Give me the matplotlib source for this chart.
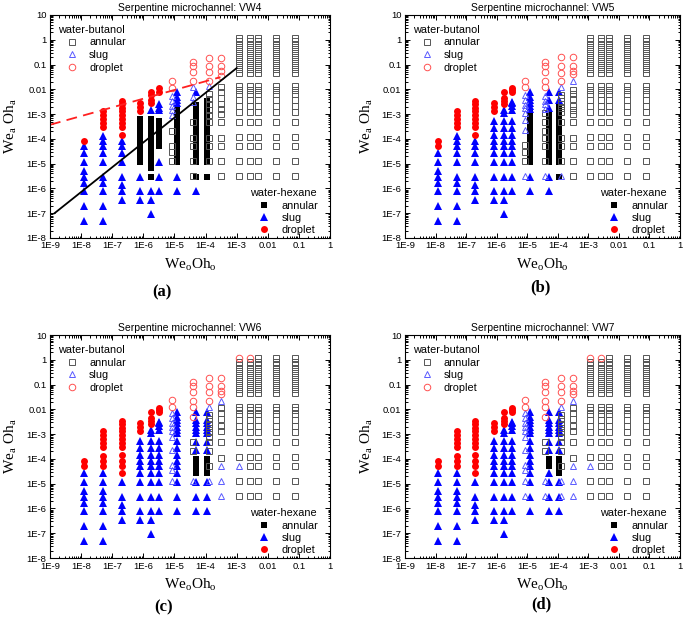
import matplotlib
matplotlib.use("Agg")
import matplotlib.pyplot as plt
from matplotlib.lines import Line2D
from matplotlib.ticker import FixedLocator, FixedFormatter, LogLocator, NullFormatter

plt.rcParams["font.family"] = ["Liberation Sans", "DejaVu Sans"]

# x positions of the measured columns (We_o Oh_o)
HEX_X = [1.2e-8, 5e-8, 2e-7, 8e-7, 1.8e-6, 3.2e-6, 1.2e-5, 5e-5, 1.1e-4]
BUT_X = [8.5e-6, 3.8e-5, 1.3e-4, 3.2e-4, 1.15e-3, 2.6e-3, 4.7e-3, 0.019, 0.076]

# water-butanol annular columns at high We_o Oh_o
BUT_ANN_FULL = [1.2, 0.85, 0.6, 0.42, 0.3, 0.2, 0.14, 0.1, 0.065, 0.045,
                0.013, 0.0095, 0.0065, 0.0038, 0.0022, 0.0012, 5e-4, 1.15e-4, 5e-5, 1.3e-5, 3.3e-6]
BUT_ANN_NO_TOP = [0.85, 0.6, 0.42, 0.3, 0.2, 0.14, 0.1, 0.065, 0.045,
                  0.013, 0.0095, 0.0065, 0.0038, 0.0022, 0.0012, 5e-4, 1.15e-4, 5e-5, 1.3e-5, 3.3e-6]
BUT_ANN_NO_TOP_MID = [0.85, 0.6, 0.42, 0.3, 0.2, 0.14, 0.1, 0.065, 0.045,
                      0.013, 0.0095, 0.0065, 0.0038, 0.0022, 0.0012, 5e-4, 1.15e-4, 1.3e-5, 3.3e-6]

# water-hexane columns shared by several panels
HS1 = [4.7e-8, 1.9e-7, 7.7e-7, 1.7e-6, 3e-6, 5e-6, 1.2e-5, 2.8e-5]
HD1 = [5e-5, 8e-5]
HS2_B = [4.7e-8, 1.9e-7, 7.7e-7, 1.7e-6, 3e-6, 1.2e-5, 2.8e-5, 5e-5, 8e-5, 1.3e-4]
HD2_B = [3e-4, 4.5e-4, 6.5e-4, 9.5e-4, 1.3e-3]
HS2_C = [4.7e-8, 1.9e-7, 7.7e-7, 1.7e-6, 3e-6, 5e-6, 1.2e-5, 2.8e-5]
HD2_C = [5e-5, 8e-5, 1.3e-4, 3e-4, 4.5e-4, 6.5e-4, 9.5e-4, 1.3e-3]
HS3_B = [3.5e-7, 7.7e-7, 1.4e-6, 3e-6, 1.2e-5, 2.8e-5, 5e-5, 8e-5]
HD3_B = [1.4e-4, 3e-4, 4.5e-4, 6.5e-4, 9.5e-4, 1.3e-3, 1.8e-3, 2.5e-3, 3.5e-3]
HS3_C = [3.5e-7, 7.7e-7, 1.4e-6, 3e-6, 1.2e-5]
HD3_C = [2.8e-5, 5e-5, 8e-5, 1.4e-4, 3e-4, 4.5e-4, 6.5e-4, 9.5e-4, 1.3e-3, 1.8e-3, 2.5e-3, 3.5e-3]
HS4 = [3.5e-7, 7.7e-7, 3e-6, 1.2e-5, 2.8e-5, 5e-5, 8e-5, 1.4e-4, 2.8e-4, 5.5e-4]
HD4 = [1.3e-3, 1.9e-3, 2.8e-3]
HS5 = [9e-8, 3.5e-7, 7.7e-7, 3e-6, 1.2e-5, 2.8e-5, 5e-5, 8e-5, 1.4e-4, 2.8e-4, 5.5e-4, 1.1e-3, 1.5e-3]
HD5 = [2.5e-3, 3.3e-3, 4.5e-3, 8e-3]
HS6 = [7.7e-7, 3e-6, 1.2e-5, 2.8e-5, 5e-5, 8e-5, 1.4e-4, 2.8e-4, 5.5e-4, 1.5e-3, 2.2e-3, 2.7e-3, 3.2e-3]
HD6 = [7.5e-3, 9e-3, 1.1e-2]

# (a) VW4
A_HEX_ANN = [[], [], [],
             [1.2e-5, 1.8e-5, 2.8e-5, 4.2e-5, 6.3e-5, 9.5e-5, 1.4e-4, 2.1e-4, 3.2e-4, 4.8e-4, 6.5e-4],
             [3e-6, 6.5e-6, 1.2e-5, 1.8e-5, 2.8e-5, 4.2e-5, 6.3e-5, 9.5e-5, 1.4e-4, 2.1e-4, 3.2e-4, 4.8e-4, 6.5e-4],
             [5e-5, 7.5e-5, 1.1e-4, 1.6e-4, 2.4e-4, 3.6e-4, 5.5e-4],
             [1.2e-5, 1.8e-5, 2.8e-5, 4.2e-5, 6.3e-5, 9.5e-5, 1.4e-4, 2.1e-4, 3.2e-4, 4.8e-4, 7.2e-4, 1.1e-3, 1.6e-3],
             [3e-6, 1.2e-5, 1.8e-5, 2.8e-5, 4.2e-5, 6.3e-5, 9.5e-5, 1.4e-4, 2.1e-4, 3.2e-4, 4.8e-4, 7.2e-4,
              1.1e-3, 1.6e-3, 2.4e-3],
             [3e-6, 1.2e-5, 1.8e-5, 2.8e-5, 4.2e-5, 6.3e-5, 9.5e-5, 1.4e-4, 2.1e-4, 3.2e-4, 4.8e-4, 7.2e-4,
              1.1e-3, 1.6e-3, 2.4e-3, 3.5e-3]]
A_HEX_SLUG = [[4.7e-8, 1.9e-7, 7.7e-7, 1.7e-6, 3e-6, 5e-6, 1.2e-5, 2.8e-5, 5e-5],
              HS2_B, HS3_B, [3.5e-7, 7.7e-7, 3e-6], [9e-8, 3.5e-7, 7.7e-7, 1.5e-3],
              [7.7e-7, 3e-6, 1.2e-5, 1.4e-3, 1.8e-3, 2.5e-3],
              [7.7e-7, 3e-6, 2.8e-3, 3.8e-3, 5e-3, 8e-3], [7.7e-7, 8e-3], []]
A_HEX_DROP = [[8e-5], HD2_B, HD3_B, HD4, [2.8e-3, 3.8e-3, 6e-3, 8e-3], [8e-3, 1.1e-2], [], [], []]
A_BUT_ANN = [[2e-4, 5e-5, 3e-5, 1.3e-5], [5e-4, 1.1e-4, 5e-5, 1.3e-5, 3.3e-6],
             [6.5e-3, 4e-3, 2.5e-3, 1.5e-3, 9e-4, 5e-4, 1.1e-4, 5e-5, 1.3e-5],
             [0.012, 7.5e-3, 4.5e-3, 2.5e-3, 1.6e-3, 1e-3, 5e-4, 1.1e-4, 5e-5, 1.3e-5, 3.3e-6],
             BUT_ANN_FULL, BUT_ANN_FULL, BUT_ANN_FULL, BUT_ANN_FULL, BUT_ANN_FULL]
A_BUT_SLUG = [[5.5e-3, 3.5e-3, 2.2e-3, 1.4e-3, 9e-4], [0.012, 5e-3, 3e-3], [0.013], [], [], [], [], [], []]
A_BUT_DROP = [[0.021, 0.011], [0.13, 0.085, 0.05, 0.021], [0.19, 0.09, 0.05, 0.022],
              [0.19, 0.09, 0.055, 0.035], [], [], [], [], []]
# model lines drawn in (a)
A_LINE_X = [1.4e-9, 1e-3]
A_LINE_Y = [1e-7, 0.072]
A_DASH_X = [1e-9, 3e-4]
A_DASH_Y = [3.7e-4, 0.031]

# (b) VW5
B_HEX_ANN = [[], [], [], [], [], [],
             [1.2e-5, 1.8e-5, 2.8e-5, 4.2e-5, 6.3e-5, 9.5e-5, 1.4e-4, 2.1e-4, 3.2e-4, 4.8e-4, 7.2e-4, 1.1e-3],
             [1.2e-5, 1.8e-5, 2.8e-5, 4.2e-5, 6.3e-5, 9.5e-5, 1.4e-4, 2.1e-4, 3.2e-4, 4.8e-4, 7.2e-4, 1.1e-3],
             [3e-6, 1.2e-5, 1.8e-5, 2.8e-5, 4.2e-5, 6.3e-5, 9.5e-5, 1.4e-4, 2.1e-4, 3.2e-4, 4.8e-4, 7.2e-4,
              1.1e-3, 1.6e-3, 2.4e-3]]
B_HEX_SLUG = [HS1, HS2_B, HS3_B, HS4, HS5, HS6,
              [7.7e-7, 3e-6, 1.6e-3, 2.2e-3, 2.8e-3, 3.8e-3, 5e-3, 8e-3],
              [7.7e-7, 3e-6, 1.8e-3, 3.8e-3, 8e-3], [3.8e-3, 8e-3]]
B_HEX_DROP = [HD1, HD2_B, HD3_B, HD4, HD5, HD6, [], [], []]
B_BUT_ANN = [[5.5e-5, 3e-5, 1.3e-5], [1.1e-3, 5e-4, 2e-4, 1.1e-4, 5e-5, 1.3e-5],
             [6e-3, 4.5e-3, 3.5e-3, 2.5e-3, 1.8e-3, 1.2e-3, 5e-4, 1.1e-4, 5e-5, 1.3e-5],
             [0.0095, 6.5e-3, 4e-3, 2.2e-3, 1.4e-3, 1e-3, 5e-4, 1.1e-4, 5e-5, 1.3e-5, 3.3e-6],
             BUT_ANN_FULL, BUT_ANN_FULL, BUT_ANN_FULL, BUT_ANN_FULL, BUT_ANN_FULL]
B_BUT_SLUG = [[6e-3, 3.8e-3, 2.4e-3, 1.7e-3, 1.1e-3, 6e-4, 2.3e-4, 3.3e-6],
              [5.5e-3, 3.5e-3, 2.5e-3, 1.6e-3, 3.3e-6], [0.012, 3.3e-6], [0.022], [], [], [], [], []]
B_BUT_DROP = [[0.021, 0.012], [0.13, 0.085, 0.05, 0.021, 0.012], [0.2, 0.09, 0.045, 0.021],
              [0.2, 0.09, 0.055, 0.04], [], [], [], [], []]

# (c) VW6
C_HEX_ANN = [[], [], [], [], [], [], [],
             [2.7e-5, 4e-5, 5.5e-5, 7e-5, 9.5e-5], [2.7e-5, 4e-5, 5.5e-5, 7e-5, 9.5e-5]]
C_HEX_SLUG = [HS1, HS2_C, HS3_C, HS4, HS5, HS6,
              [7.7e-7, 3e-6, 1.2e-5, 2.8e-5, 5e-5, 8e-5, 1.4e-4, 2.8e-4, 5.5e-4, 1.1e-3, 1.5e-3, 2e-3,
               2.8e-3, 3.8e-3, 5e-3, 8e-3],
              [7.7e-7, 3e-6, 1.2e-5, 2.3e-4, 5e-4, 1.1e-3, 1.5e-3, 2e-3, 2.8e-3, 3.8e-3, 8e-3],
              [7.7e-7, 3e-6, 1.2e-5, 2.3e-4, 5e-4, 1.1e-3, 1.5e-3, 2e-3, 2.8e-3, 3.8e-3, 8e-3]]
C_HEX_DROP = [HD1, HD2_C, HD3_C, HD4, HD5, HD6, [], [], []]
C_BUT_ANN = [[], [5e-4, 2e-4],
             [6e-3, 4e-3, 2.5e-3, 1.8e-3, 1.2e-3, 8e-4, 5e-4, 2e-4, 5e-5],
             [0.011, 7e-3, 4e-3, 2.2e-3, 1.4e-3, 5e-4, 1.1e-4],
             BUT_ANN_NO_TOP_MID, BUT_ANN_NO_TOP, BUT_ANN_FULL, BUT_ANN_FULL, BUT_ANN_FULL]
C_BUT_SLUG = [[7e-3, 4.4e-3, 2.8e-3, 2e-3, 1.3e-3, 8e-4, 2.3e-4, 5.8e-5, 3.7e-5, 1.3e-5],
              [1.3e-5], [0.013, 1.3e-5], [0.022, 5e-5, 1.3e-5, 3.3e-6], [5e-5], [], [], [], []]
C_BUT_DROP = [[0.024, 0.013], [0.13, 0.085, 0.05, 0.022, 0.013, 5e-3], [0.19, 0.09, 0.05, 0.022],
              [0.19, 0.09, 0.055, 0.04], [1.2], [1.2], [], [], []]

# (d) VW7
D_HEX_ANN = [[], [], [], [], [], [], [],
             [5e-5, 6.5e-5, 8e-5, 1e-4], [2.7e-5, 4e-5, 5.5e-5, 7e-5, 9.5e-5]]
D_HEX_SLUG = [HS1, HS2_C, HS3_C, HS4, HS5, HS6,
              [7.7e-7, 3e-6, 1.2e-5, 2.8e-5, 5e-5, 8e-5, 1.4e-4, 2.8e-4, 5.5e-4, 1.1e-3, 1.5e-3, 2e-3,
               2.8e-3, 3.8e-3, 5e-3, 8e-3],
              [7.7e-7, 3e-6, 1.2e-5, 2.8e-5, 2.3e-4, 5e-4, 1.1e-3, 1.5e-3, 2e-3, 2.8e-3, 3.8e-3, 8e-3],
              [7.7e-7, 3e-6, 1.2e-5, 2.3e-4, 5e-4, 1.1e-3, 1.5e-3, 2e-3, 2.8e-3, 3.8e-3, 8e-3]]
D_HEX_DROP = [HD1, HD2_C, HD3_C, HD4, HD5, HD6, [], [], []]
D_BUT_ANN = C_BUT_ANN
D_BUT_SLUG = [[7e-3, 4.4e-3, 2.8e-3, 2e-3, 1.3e-3, 8e-4, 2.3e-4, 5.8e-5, 3.7e-5, 1.3e-5, 3.3e-6],
              [1.3e-5, 3.3e-6], [0.013, 1.3e-5, 3.3e-6], [0.022, 5e-5, 1.3e-5, 3.3e-6], [5e-5], [], [], [], []]
D_BUT_DROP = C_BUT_DROP

X_TICKS = [1e-9, 1e-8, 1e-7, 1e-6, 1e-5, 1e-4, 1e-3, 1e-2, 1e-1, 1]
X_LABELS = ["1E-9", "1E-8", "1E-7", "1E-6", "1E-5", "1E-4", "1E-3", "0.01", "0.1", "1"]
Y_TICKS = [1e-8, 1e-7, 1e-6, 1e-5, 1e-4, 1e-3, 1e-2, 1e-1, 1, 10]
Y_LABELS = ["1E-8", "1E-7", "1E-6", "1E-5", "1E-4", "1E-3", "0.01", "0.1", "1", "10"]

OPEN_SQ = dict(marker="s", ms=3.9, mfc="none", mec="#555555", mew=0.7, ls="none")
OPEN_TRI = dict(marker="^", ms=4.9, mfc="none", mec="#5a5aff", mew=0.7, ls="none")
OPEN_CIR = dict(marker="o", ms=4.7, mfc="none", mec="#ff5050", mew=0.7, ls="none")
FILL_SQ = dict(marker="s", ms=4.0, color="black", mew=0, ls="none")
FILL_TRI = dict(marker="^", ms=5.4, color="#0000ff", mew=0, ls="none")
FILL_CIR = dict(marker="o", ms=5.0, color="#ff0000", mew=0, ls="none")


def flat(xs, cols):
    px, py = [], []
    for x, ys in zip(xs, cols):
        px += [x] * len(ys)
        py += list(ys)
    return px, py


def panel(ax, title, hex_ann, hex_slug, hex_drop, but_ann, but_slug, but_drop):
    ax.set_xscale("log")
    ax.set_yscale("log")
    ax.set_xlim(1e-9, 1)
    ax.set_ylim(1e-8, 10)

    ax.plot(*flat(HEX_X, hex_ann), **FILL_SQ)
    ax.plot(*flat(HEX_X, hex_slug), **FILL_TRI)
    ax.plot(*flat(HEX_X, hex_drop), **FILL_CIR)
    ax.plot(*flat(BUT_X, but_ann), **OPEN_SQ)
    ax.plot(*flat(BUT_X, but_slug), **OPEN_TRI)
    ax.plot(*flat(BUT_X, but_drop), **OPEN_CIR)

    ax.xaxis.set_major_locator(FixedLocator(X_TICKS))
    ax.xaxis.set_major_formatter(FixedFormatter(X_LABELS))
    ax.yaxis.set_major_locator(FixedLocator(Y_TICKS))
    ax.yaxis.set_major_formatter(FixedFormatter(Y_LABELS))
    for axis in (ax.xaxis, ax.yaxis):
        axis.set_minor_locator(LogLocator(base=10, subs=range(2, 10), numticks=100))
        axis.set_minor_formatter(NullFormatter())
    ax.tick_params(which="both", direction="in", top=True, right=True, labelsize=6.8, pad=2.5, width=0.7)
    ax.tick_params(which="major", length=3.5)
    ax.tick_params(which="minor", length=1.8)
    for s in ax.spines.values():
        s.set_linewidth(0.8)

    ax.set_title(title, fontsize=7.5, pad=3)
    ax.set_xlabel("We$_\\mathregular{o}$Oh$_\\mathregular{o}$", family="Liberation Serif", fontsize=11)
    ax.set_ylabel("We$_\\mathregular{a}$ Oh$_\\mathregular{a}$", family="Liberation Serif", fontsize=11)
    ax.xaxis.set_label_coords(0.5, -0.08)
    ax.yaxis.set_label_coords(-0.11, 0.5)

    h_but = [Line2D([], [], **OPEN_SQ), Line2D([], [], **OPEN_TRI), Line2D([], [], **OPEN_CIR)]
    h_hex = [Line2D([], [], **FILL_SQ), Line2D([], [], **FILL_TRI), Line2D([], [], **FILL_CIR)]
    names = ["annular", "slug", "droplet"]
    leg1 = ax.legend(h_but, names, title="water-butanol", loc="upper left", bbox_to_anchor=(0.0, 0.99),
                     frameon=False, fontsize=7.8, title_fontsize=7.8, handlelength=2.6, handletextpad=0.3,
                     labelspacing=0.25, borderpad=0.2, alignment="left")
    ax.add_artist(leg1)
    ax.legend(h_hex, names, title="water-hexane", loc="lower right", bbox_to_anchor=(0.985, -0.02),
              frameon=False, fontsize=7.8, title_fontsize=7.8, handlelength=2.6, handletextpad=0.3,
              labelspacing=0.2, borderpad=0.2, alignment="left")


fig = plt.figure(figsize=(6.85, 6.21), dpi=100)

ax_a = fig.add_axes([0.0730, 0.6168, 0.4088, 0.3591])
panel(ax_a, "Serpentine microchannel: VW4", A_HEX_ANN, A_HEX_SLUG, A_HEX_DROP, A_BUT_ANN, A_BUT_SLUG, A_BUT_DROP)
ax_a.plot(A_LINE_X, A_LINE_Y, color="black", lw=1.3)
ax_a.plot(A_DASH_X, A_DASH_Y, color="#ff2020", lw=1.3, dashes=(6, 3.5))

ax_b = fig.add_axes([0.5912, 0.6168, 0.4015, 0.3591])
panel(ax_b, "Serpentine microchannel: VW5", B_HEX_ANN, B_HEX_SLUG, B_HEX_DROP, B_BUT_ANN, B_BUT_SLUG, B_BUT_DROP)

ax_c = fig.add_axes([0.0730, 0.1014, 0.4088, 0.3591])
panel(ax_c, "Serpentine microchannel: VW6", C_HEX_ANN, C_HEX_SLUG, C_HEX_DROP, C_BUT_ANN, C_BUT_SLUG, C_BUT_DROP)

ax_d = fig.add_axes([0.5912, 0.1014, 0.4015, 0.3591])
panel(ax_d, "Serpentine microchannel: VW7", D_HEX_ANN, D_HEX_SLUG, D_HEX_DROP, D_BUT_ANN, D_BUT_SLUG, D_BUT_DROP)

for lab, x, y in [("(a)", 162, 292), ("(b)", 540, 287), ("(c)", 164, 607), ("(d)", 541, 604)]:
    fig.text(x / 685, 1 - y / 621, lab, ha="center", va="center", family="Liberation Serif",
             fontsize=12, fontweight="bold")

fig.savefig("out.png", dpi=100)
